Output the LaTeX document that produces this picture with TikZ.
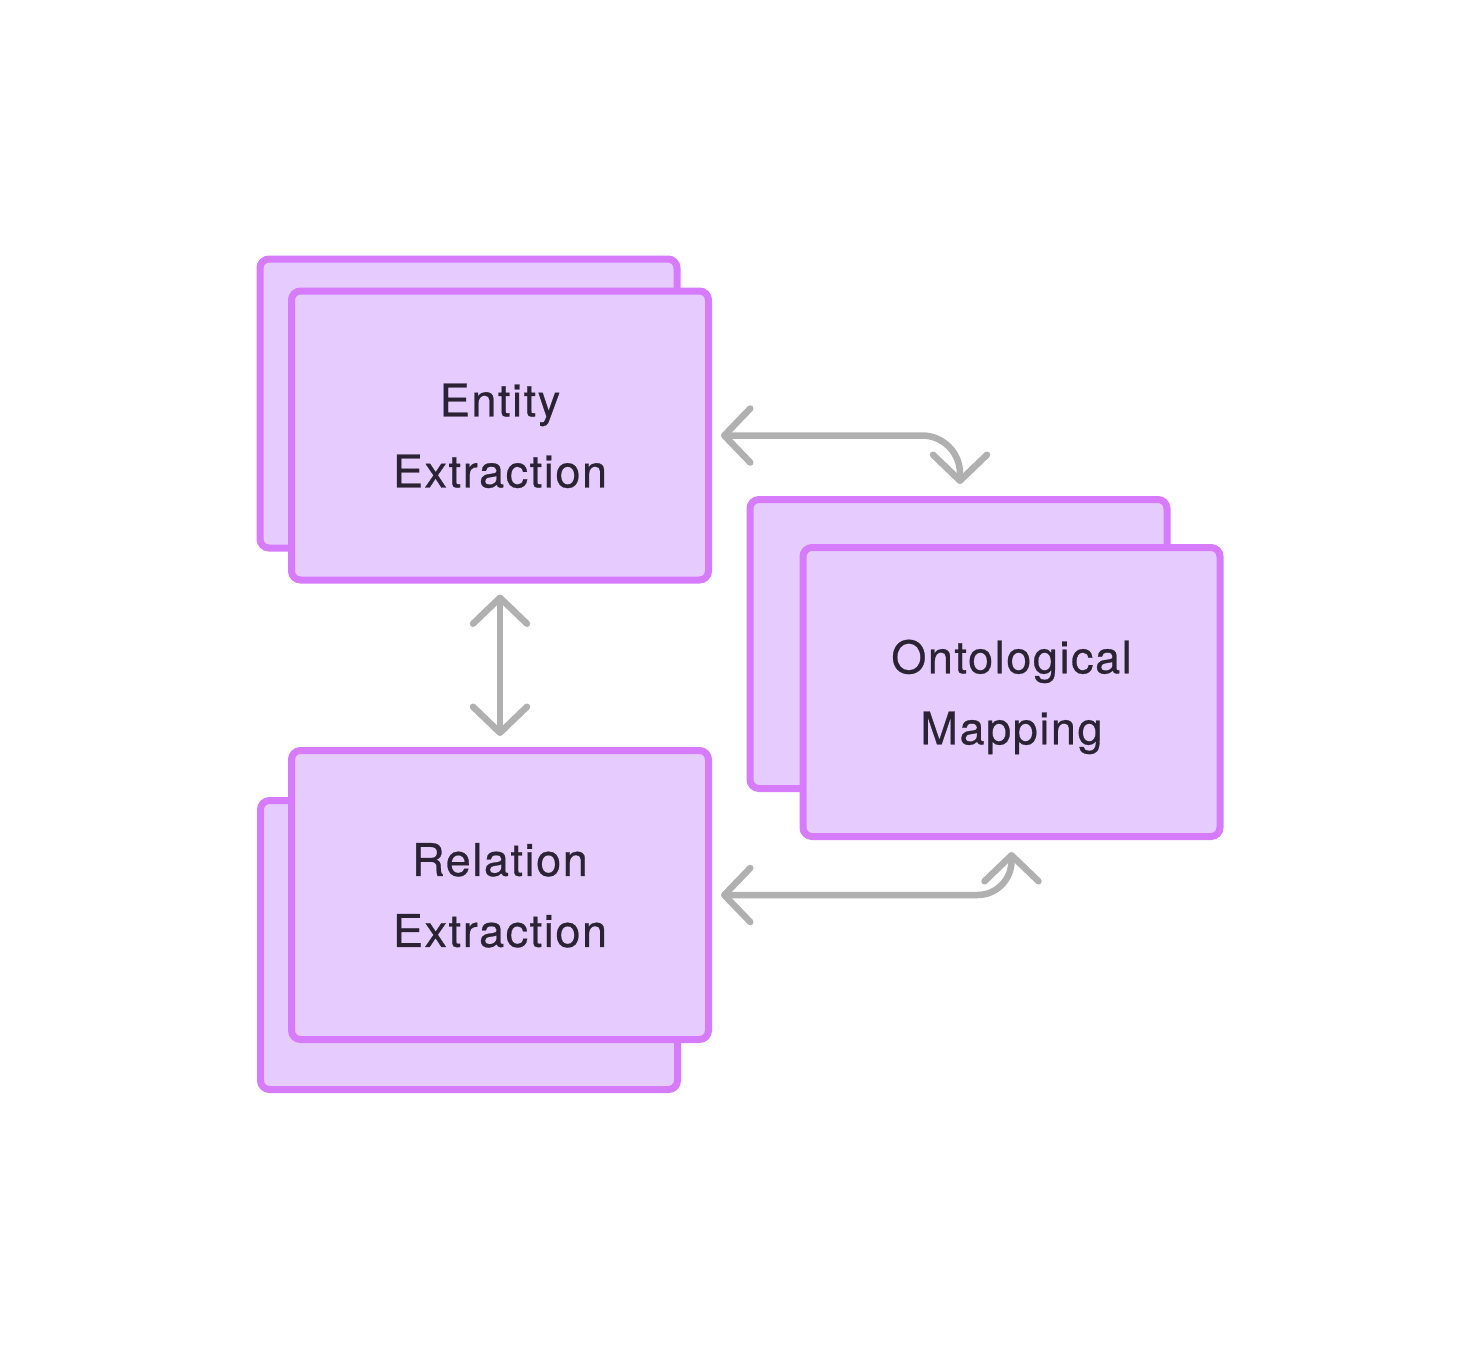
\documentclass[tikz,border=0pt]{standalone}
\usepackage{fontspec}
\setmainfont{TeX Gyre Heros}[LetterSpace=3.5,FakeBold=0.6]
\usetikzlibrary{arrows.meta}
\definecolor{boxline}{HTML}{D67BFB}
\definecolor{boxfill}{HTML}{E6CCFE}
\definecolor{arrowgray}{HTML}{B0B0B0}
\definecolor{txt}{HTML}{2B2333}
\begin{document}
\begin{tikzpicture}[x=1pt,y=-1pt,
  card/.style={draw=boxline, fill=boxfill, line width=7pt, rounded corners=9pt,
    minimum width=417pt, minimum height=289pt, inner sep=0pt, text=txt,
    align=center, text depth=0pt, font=\fontsize{45}{71}\selectfont},
  barb/.tip={Straight Barb[length=26pt,width=54pt,round]},
  link/.style={draw=arrowgray, line width=6.5pt, line cap=round, line join=round, barb-barb}]
\fill[white] (0,0) rectangle (1480,1350);
\useasboundingbox (0,0) rectangle (1480,1350);
% back cards
\node[card] (entback) at (468.5,403.5) {};
\node[card] (relback) at (469,945) {};
\node[card] (ontoback) at (958.5,644) {};
% front cards
\node[card] (ent) at (500,435.5) {Entity\\Extraction};
\node[card] (rel) at (500,895) {Relation\\Extraction};
\node[card] (onto) at (1011.5,692) {Ontological\\Mapping};
% connectors
\draw[link] ([yshift=-11pt]ent.south) -- ([yshift=11pt]rel.north);
\draw[link, rounded corners=38pt] ([xshift=9pt]ent.east) -| ([xshift=1.5pt,yshift=12pt]ontoback.north);
\draw[link, rounded corners=34pt] ([xshift=9pt]rel.east) -| ([yshift=-12pt]onto.south);
\end{tikzpicture}
\end{document}
